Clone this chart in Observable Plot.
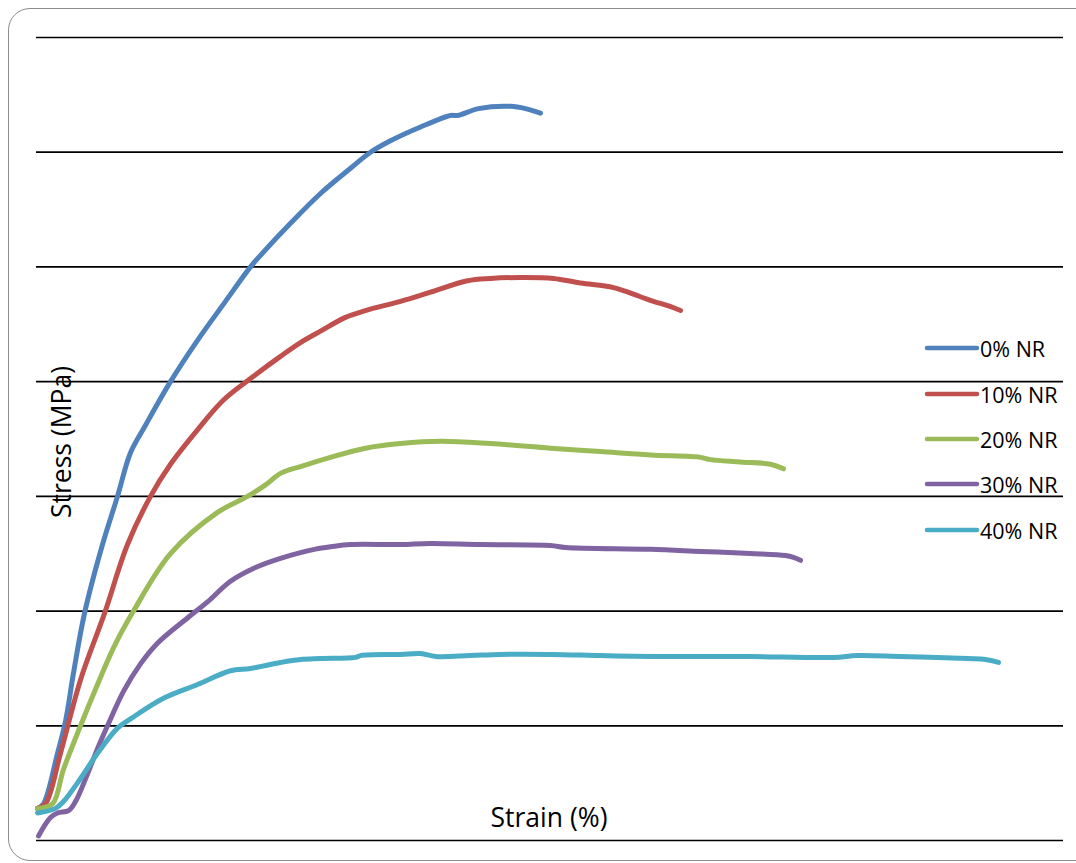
<!DOCTYPE html>
<html>
<head>
<meta charset="utf-8">
<script src="https://cdn.jsdelivr.net/npm/d3@7"></script>
<script src="https://cdn.jsdelivr.net/npm/@observablehq/plot@0.6"></script>
<style>
  html, body { margin: 0; padding: 0; background: #fff; overflow: hidden; }
  body { width: 1076px; height: 863px; position: relative; font-family: "Open Sans", sans-serif; }
  #frame { position: absolute; left: 8px; top: 8px; width: 1090px; height: 853px; border: 1.6px solid #8c8c8c; border-radius: 22px; box-sizing: border-box; }
  #chart { position: absolute; left: 0; top: 0; }
  .lbl { position: absolute; font-family: "Open Sans", sans-serif; font-size: 26.5px; color: #000; white-space: nowrap; line-height: 1; }
  #legend { position: absolute; left: 924px; top: 0; }
  .item { position: absolute; left: 0; display: flex; align-items: center; font-size: 21.5px; white-space: nowrap; }
  .item svg { display: block; }
</style>
</head>
<body>
<div id="frame"></div>
<div id="chart"></div>
<div class="lbl" id="xlab">Strain (%)</div>
<div class="lbl" id="ylab">Stress (MPa)</div>
<div id="legend"></div>
<script>
// Series names and colours
const seriesNames = ["0% NR", "10% NR", "20% NR", "30% NR", "40% NR"];
const seriesColors = ["#4F81BD", "#C0504D", "#9BBB59", "#8064A2", "#4BACC6"];
const yTicks = [0, 5, 10, 15, 20, 25, 30, 35];

// [strain %, stress MPa]
const nr0 = [[0.4,1.4],[2.8,1.6],[8.4,3.8],[11.6,5.2],[14.8,7.3],[19.2,9.9],[26.4,12.9],[32.4,15.0],[37.6,16.9],[43.6,18.1],[53.6,20.0],[64.4,21.8],[75.6,23.5],[85.6,25.0],[90.4,25.6],[101.6,26.9],[113.6,28.2],[125.6,29.3],[133.6,30.0],[141.6,30.5],[153.6,31.1],[165.6,31.6],[168.4,31.6],[176.8,31.9],[189.6,32.0],[195.6,31.9],[201.6,31.7]];
const nr10 = [[0.4,1.4],[3.6,1.6],[9.6,3.8],[17.6,7.0],[27.2,9.9],[36.4,12.9],[45.6,15.0],[53.6,16.4],[64.4,17.9],[74.8,19.2],[86.4,20.2],[97.6,21.1],[105.6,21.7],[113.6,22.2],[123.6,22.8],[131.6,23.1],[145.6,23.5],[157.6,23.9],[172.4,24.4],[181.6,24.5],[193.6,24.54],[206.8,24.5],[217.6,24.3],[230.8,24.1],[241.6,23.7],[246.8,23.5],[252.8,23.3],[257.6,23.1]];
const nr20 = [[0.4,1.4],[6.4,1.6],[10.8,3.1],[17.6,5.0],[24.4,6.8],[30.8,8.4],[38.8,10.0],[53.6,12.5],[72.4,14.3],[84.4,15.0],[91.6,15.5],[97.6,16.0],[105.6,16.3],[117.6,16.7],[131.6,17.1],[145.6,17.3],[161.6,17.4],[181.6,17.3],[205.6,17.1],[225.6,16.95],[245.6,16.8],[265.6,16.7],[269.6,16.6],[281.6,16.5],[293.6,16.4],[298.8,16.2]];
const nr30 = [[0.8,0.2],[5.6,1.0],[8.4,1.2],[12.8,1.3],[15.6,1.7],[20.4,2.9],[24.4,4.0],[28.4,5.0],[34.8,6.5],[41.6,7.7],[48.4,8.6],[60.4,9.7],[68.4,10.4],[77.6,11.3],[87.6,11.9],[97.6,12.3],[105.6,12.55],[111.6,12.7],[117.6,12.8],[125.6,12.9],[145.6,12.9],[157.6,12.95],[177.6,12.9],[205.6,12.86],[211.6,12.77],[245.6,12.69],[265.6,12.6],[285.6,12.51],[299.6,12.42],[302.8,12.34],[305.6,12.21]];
const nr40 = [[0.4,1.2],[7.6,1.4],[10.8,1.7],[17.6,2.7],[24.4,3.8],[32.4,4.9],[37.6,5.3],[50.8,6.2],[64.4,6.8],[77.6,7.4],[85.6,7.5],[97.6,7.76],[105.6,7.89],[113.6,7.93],[127.6,7.98],[129.6,8.06],[145.6,8.11],[153.6,8.15],[159.6,8.02],[173.6,8.06],[185.6,8.11],[205.6,8.11],[225.6,8.06],[245.6,8.02],[265.6,8.02],[285.6,8.02],[318.8,7.98],[328.4,8.06],[345.6,8.02],[372.4,7.93],[379.6,7.89],[384.8,7.76]];

const seriesData = [nr0, nr10, nr20, nr30, nr40];
const rows = seriesData.flatMap((arr, i) => arr.map(([strain, stress]) => ({series: seriesNames[i], strain, stress})));

const chart = Plot.plot({
  width: 1076,
  height: 863,
  marginLeft: 36,
  marginRight: 13,
  marginTop: 37,
  marginBottom: 23,
  x: {domain: [0, 410.8], axis: null},
  y: {domain: [0, 35], axis: null},
  color: {domain: seriesNames, range: seriesColors},
  style: {background: "transparent", overflow: "visible"},
  marks: [
    Plot.ruleY(yTicks, {stroke: "#000", strokeWidth: 1.7}),
    Plot.line(rows, {x: "strain", y: "stress", z: "series", stroke: "series", strokeWidth: 5, strokeLinejoin: "round", strokeLinecap: "round", curve: "catmull-rom"})
  ]
});
document.getElementById("chart").appendChild(chart);

// Axis titles
const xl = document.getElementById("xlab");
xl.style.left = "549px"; xl.style.top = "804px"; xl.style.transform = "translateX(-50%)";
const yl = document.getElementById("ylab");
yl.style.left = "61px"; yl.style.top = "442px"; yl.style.transform = "translate(-50%, -50%) rotate(-90deg)";

// Legend
const legend = document.getElementById("legend");
const rowsY = [348, 394, 439, 484, 530];
seriesNames.forEach((name, i) => {
  const item = document.createElement("div");
  item.className = "item";
  item.style.top = (rowsY[i] - 15) + "px";
  item.style.height = "30px";
  item.innerHTML = `<svg width="56" height="10"><line x1="3" y1="5" x2="53" y2="5" stroke="${seriesColors[i]}" stroke-width="4.5" stroke-linecap="round"/></svg><span>${name}</span>`;
  legend.appendChild(item);
});
</script>
</body>
</html>
